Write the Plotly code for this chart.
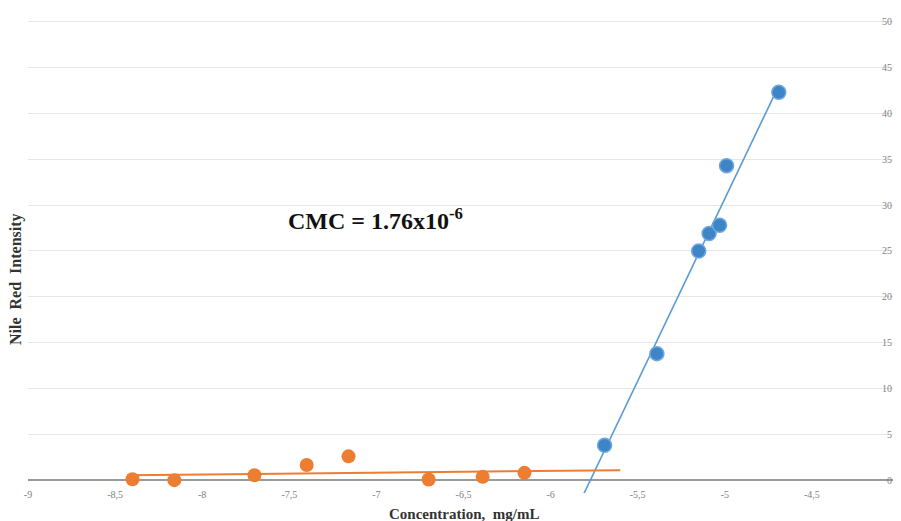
import numpy as np
import plotly.graph_objects as go

# --- data ---
blue_x = [-5.69, -5.39, -5.15, -5.09, -5.03, -4.99, -4.69]
blue_y = [3.8, 13.8, 25.0, 26.9, 27.8, 34.3, 42.3]
orange_x = [-8.40, -8.16, -7.70, -7.40, -7.16, -6.70, -6.39, -6.15]
orange_y = [0.1, 0.0, 0.54, 1.65, 2.6, 0.07, 0.36, 0.8]
blue_trend_extent = [-5.83, -4.69]
orange_trend_extent = [-8.43, -5.60]
x_tick_vals = [-9, -8.5, -8, -7.5, -7, -6.5, -6, -5.5, -5, -4.5, -4]
x_tick_text = ["-9", "-8,5", "-8", "-7,5", "-7", "-6,5", "-6", "-5,5", "-5", "-4,5", "-4"]
y_tick_vals = [0, 5, 10, 15, 20, 25, 30, 35, 40, 45, 50]
annotation_text = "CMC = 1.76x10<sup>-6</sup>"
x_title = "Concentration,  mg/mL"
y_title = "Nile  Red  Intensity"

BLUE = "#3d85c6"
BLUE_LINE = "#5b9bd5"
ORANGE = "#ed7d31"
SERIF = "Liberation Serif, Times New Roman, serif"

bfit = np.polyfit(blue_x, blue_y, 1)
ofit = np.polyfit(orange_x, orange_y, 1)

# page body has an 8px default margin: figure sized to fill the rest
OFF = 8
W, H = 901 - OFF, 521 - OFF
PL, PB, PW, PH = 28, 493, 871, 474  # plot area in page pixels (left, bottom, width, height)

def px(xp):
    return (xp - PL) / PW

def py(yp):
    return (PB - yp) / PH

fig = go.Figure()
fig.add_trace(go.Scatter(x=blue_trend_extent, y=list(np.polyval(bfit, blue_trend_extent)),
                         mode="lines", line=dict(color=BLUE_LINE, width=1.6), hoverinfo="skip"))
fig.add_trace(go.Scatter(x=orange_trend_extent, y=list(np.polyval(ofit, orange_trend_extent)),
                         mode="lines", line=dict(color=ORANGE, width=2), hoverinfo="skip"))
fig.add_trace(go.Scatter(x=blue_x, y=blue_y, mode="markers",
                         marker=dict(size=14, color=BLUE, line=dict(color="#6fa8dc", width=1.5)),
                         cliponaxis=False))
fig.add_trace(go.Scatter(x=orange_x, y=orange_y, mode="markers",
                         marker=dict(size=14, color=ORANGE),
                         cliponaxis=False))

fig.update_layout(
    width=W, height=H,
    margin=dict(l=PL - OFF, r=W - (PL - OFF) - PW, t=(PB - PH) - OFF, b=H - (PB - OFF),
                autoexpand=False, pad=0),
    plot_bgcolor="white", paper_bgcolor="white",
    showlegend=False,
    font=dict(family=SERIF, color="#7f7f7f", size=10),
    xaxis=dict(range=[-9, -4], tickvals=x_tick_vals, ticktext=x_tick_text,
               showgrid=False, zeroline=False, showline=False, ticks="",
               automargin=False, ticklabelstandoff=-6,
               tickfont=dict(family=SERIF, size=10, color="#7f7f7f")),
    yaxis=dict(range=[-1.4, 50.3], tickvals=y_tick_vals, side="left",
               anchor="free", position=1,
               showgrid=True, gridcolor="#e6e6e6", gridwidth=1,
               zeroline=True, zerolinecolor="#9a9a9a", zerolinewidth=2,
               showline=True, linecolor="#c8c8c8", linewidth=1, ticks="",
               automargin=False, ticklabelstandoff=5,
               tickfont=dict(family=SERIF, size=10, color="#7f7f7f")),
    annotations=[
        dict(text="<b>" + annotation_text + "</b>", xref="paper", yref="paper",
             x=px(375), y=py(219), showarrow=False,
             font=dict(family=SERIF, size=24, color="#111111"), xanchor="center", yanchor="middle"),
        dict(text="<b>" + x_title + "</b>", xref="paper", yref="paper",
             x=px(464), y=py(514), showarrow=False,
             font=dict(family=SERIF, size=15, color="#333333"), xanchor="center", yanchor="middle"),
        dict(text="<b>" + y_title + "</b>", xref="paper", yref="paper", textangle=-90,
             x=px(16), y=py(279), showarrow=False,
             font=dict(family=SERIF, size=16, color="#333333"), xanchor="center", yanchor="middle"),
    ],
)

fig.write_html("out.html")
